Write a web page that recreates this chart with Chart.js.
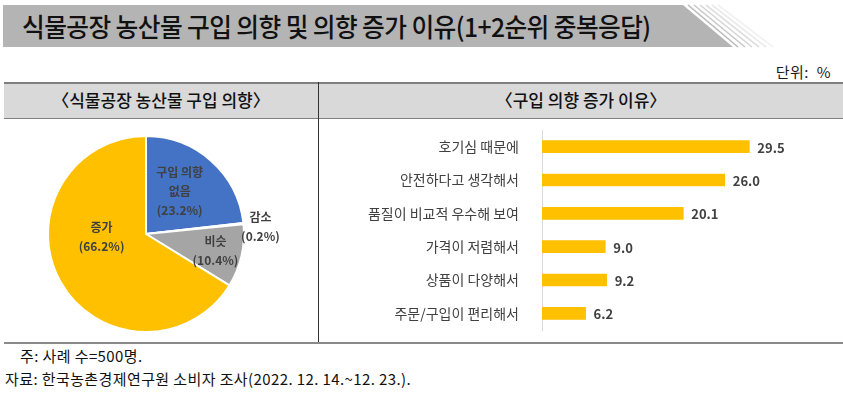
<!DOCTYPE html>
<html>
<head>
<meta charset="utf-8">
<script src="https://cdn.jsdelivr.net/npm/chart.js@4"></script>
<style>
  body { margin: 0; width: 843px; height: 395px; background: #fff; position: relative; overflow: hidden;
         font-family: "Noto Sans CJK KR", "Noto Sans", sans-serif; color: #1a1a1a; }
  .abs { position: absolute; }
  #title { left: 22px; top: 5px; height: 42px; line-height: 42px; font-size: 26px; font-weight: 500; letter-spacing: -0.6px; color: #111;
           transform: scaleX(0.95); transform-origin: left center; white-space: nowrap; }
  #unit { right: 12px; top: 61px; font-size: 15px; letter-spacing: 0.5px; white-space: pre; }
  #head { left: 4px; top: 82px; width: 839px; height: 34px; background: #d9d9d9;
          border-top: 2px solid #7f7f7f; border-bottom: 1px solid #7f7f7f; }
  .htxt { top: 83px; height: 34px; line-height: 34px; font-size: 17px; font-weight: 500; text-align: center; color: #111; }
  #divider { left: 318px; top: 82px; width: 1px; height: 261px; background: #333; }
  #bottom { left: 4px; top: 342px; width: 839px; height: 2px; background: #8a8a8a; }
  .note { font-size: 15px; letter-spacing: 0.4px; color: #111; white-space: nowrap; }
  canvas { position: absolute; }
</style>
</head>
<body>
<svg class="abs" style="left:0;top:0" width="843" height="50">
  <polygon points="3,5 683,5 733,47 3,47" fill="#b4b4b4"/>
  <g stroke-width="1.6">
    <line x1="688" y1="5" x2="738" y2="47" stroke="#b4b4b4" opacity="0.9"/>
    <line x1="694" y1="5" x2="745" y2="47" stroke="#bbbbbb" opacity="0.8"/>
    <line x1="700" y1="5" x2="752" y2="47" stroke="#c4c4c4" opacity="0.7"/>
    <line x1="706" y1="5" x2="759" y2="47" stroke="#cccccc" opacity="0.6"/>
    <line x1="712" y1="5" x2="766" y2="47" stroke="#d6d6d6" opacity="0.5"/>
    <line x1="718" y1="5" x2="773" y2="47" stroke="#e0e0e0" opacity="0.4"/>
  </g>
</svg>
<div id="title" class="abs">식물공장 농산물 구입 의향 및 의향 증가 이유(1+2순위 중복응답)</div>
<div id="unit" class="abs">단위:  %</div>
<div id="head" class="abs"></div>
<div class="abs htxt" style="left:4px;width:314px;">〈식물공장 농산물 구입 의향〉</div>
<div class="abs htxt" style="left:319px;width:524px;">〈구입 의향 증가 이유〉</div>
<div id="divider" class="abs"></div>
<div id="bottom" class="abs"></div>
<div class="abs note" style="left:20px;top:345px;">주: 사례 수=500명.</div>
<div class="abs note" style="left:5px;top:368px;">자료: 한국농촌경제연구원 소비자 조사(2022. 12. 14.~12. 23.).</div>

<canvas id="pie" width="296" height="220" style="left:20px;top:122px;"></canvas>
<canvas id="bar" width="523" height="215" style="left:320px;top:125px;"></canvas>

<script>
// pie: 식물공장 농산물 구입 의향 (clockwise from top)
const pieLabels = ['구입 의향 없음', '감소', '비슷', '증가'];
const pieValues = [23.2, 0.2, 10.4, 66.2];
const pieColors = ['#4472C4', '#ED7D31', '#A5A5A5', '#FFC000'];
const pieLines = [['구입 의향', '없음'], ['감소'], ['비슷'], ['증가']];
const pieLabelRadius = [0.555, 1.17, 0.73, 0.455];
const pieLabelShift = [-3.5, 2.6, 1, 25];

// bar: 구입 의향 증가 이유
const reasons = ['호기심 때문에', '안전하다고 생각해서', '품질이 비교적 우수해 보여', '가격이 저렴해서', '상품이 다양해서', '주문/구입이 편리해서'];
const reasonValues = [29.5, 26.0, 20.1, 9.0, 9.2, 6.2];

const FONT = '"Noto Sans CJK KR", "Noto Sans", sans-serif';

const pieLabelPlugin = {
  id: 'pieLabels',
  afterDatasetsDraw(chart) {
    const ctx = chart.ctx;
    const meta = chart.getDatasetMeta(0);
    ctx.save();
    ctx.font = 'bold 12px ' + FONT;
    ctx.fillStyle = '#404040';
    ctx.textAlign = 'center';
    ctx.textBaseline = 'middle';
    meta.data.forEach((arc, i) => {
      const mid = (arc.startAngle + arc.endAngle) / 2 + pieLabelShift[i] * Math.PI / 180;
      const r = arc.outerRadius * pieLabelRadius[i];
      const x = arc.x + Math.cos(mid) * r;
      const y = arc.y + Math.sin(mid) * r;
      const lines = pieLines[i].concat('(' + pieValues[i].toFixed(1) + '%)');
      const lh = 19;
      lines.forEach((t, k) => ctx.fillText(t, x, y + (k - (lines.length - 1) / 2) * lh));
    });
    ctx.restore();
  }
};

const barValuePlugin = {
  id: 'barValues',
  afterDatasetsDraw(chart) {
    const ctx = chart.ctx;
    const meta = chart.getDatasetMeta(0);
    ctx.save();
    ctx.font = 'bold 13px ' + FONT;
    ctx.fillStyle = '#404040';
    ctx.textAlign = 'left';
    ctx.textBaseline = 'middle';
    meta.data.forEach((bar, i) => {
      ctx.fillText(reasonValues[i].toFixed(1), bar.x + 8, bar.y + 1);
    });
    ctx.restore();
  }
};

new Chart(document.getElementById('pie'), {
  type: 'pie',
  data: {
    labels: pieLabels,
    datasets: [{
      data: pieValues,
      backgroundColor: pieColors,
      borderColor: '#ffffff',
      borderWidth: 2
    }]
  },
  options: {
    responsive: false,
    animation: false,
    layout: { padding: { left: 27, right: 71, top: 13, bottom: 9 } },
    plugins: { legend: { display: false }, tooltip: { enabled: false } }
  },
  plugins: [pieLabelPlugin]
});

new Chart(document.getElementById('bar'), {
  type: 'bar',
  data: {
    labels: reasons,
    datasets: [{
      data: reasonValues,
      backgroundColor: '#FFC000',
      barThickness: 12
    }]
  },
  options: {
    indexAxis: 'y',
    responsive: false,
    animation: false,
    layout: { padding: { left: 0, right: 55, top: 5, bottom: 10 } },
    scales: {
      x: { display: false, min: 0, max: 35 },
      y: {
        grid: { display: false },
        border: { display: true, color: '#d9d9d9', width: 1 },
        ticks: { color: '#404040', padding: 15, font: { size: 14, family: FONT } },
        afterFit(scale) {
          scale.width = 222;
          scale.paddingTop = 0;
          scale.paddingBottom = 0;
        }
      }
    },
    plugins: { legend: { display: false }, tooltip: { enabled: false } }
  },
  plugins: [barValuePlugin]
});
</script>
</body>
</html>
